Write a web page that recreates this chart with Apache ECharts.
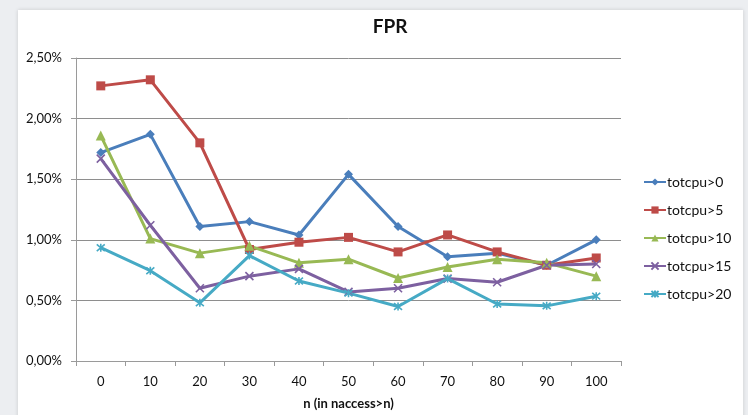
<!DOCTYPE html>
<html>
<head>
<meta charset="utf-8">
<script src="https://cdn.jsdelivr.net/npm/echarts@6/dist/echarts.min.js"></script>
<style>
  html, body { margin: 0; padding: 0; background: #eceef1; }
  #chart { width: 748px; height: 415px; }
</style>
</head>
<body>
<div id="chart"></div>
<script>
// n thresholds on the x axis
const categories = ['0', '10', '20', '30', '40', '50', '60', '70', '80', '90', '100'];

// False positive rate (%) per totcpu threshold
const totcpu0  = [1.72, 1.87, 1.11, 1.15, 1.04, 1.54, 1.11, 0.86, 0.89, 0.79, 1.00];
const totcpu5  = [2.27, 2.32, 1.80, 0.92, 0.98, 1.02, 0.90, 1.04, 0.90, 0.79, 0.85];
const totcpu10 = [1.86, 1.01, 0.89, 0.95, 0.81, 0.84, 0.685, 0.775, 0.84, 0.81, 0.70];
const totcpu15 = [1.67, 1.12, 0.60, 0.70, 0.76, 0.57, 0.60, 0.68, 0.65, 0.79, 0.80];
const totcpu20 = [0.935, 0.745, 0.48, 0.87, 0.66, 0.56, 0.45, 0.68, 0.47, 0.455, 0.535];

const seriesNames = ['totcpu>0', 'totcpu>5', 'totcpu>10', 'totcpu>15', 'totcpu>20'];
const yTicks = { min: 0, max: 2.5, step: 0.5 };

const colors = ['#4a7ebb', '#be4b48', '#98b954', '#7d60a0', '#46aac5'];
const symbols = [
  'diamond',
  'rect',
  'triangle',
  'path://M0,0 L10,10 M10,0 L0,10',
  'path://M0,0 L10,10 M10,0 L0,10 M5,-1 L5,11'
];
const symbolSizes = [9, 9, 10, 8, 8];
const dataSets = [totcpu0, totcpu5, totcpu10, totcpu15, totcpu20];

const font = 'Lato, "Open Sans", sans-serif';

const chart = echarts.init(document.getElementById('chart'), null, { renderer: 'canvas' });

chart.setOption({
  animation: false,
  backgroundColor: '#eceef1',
  graphic: [
    {
      type: 'rect',
      shape: { x: 18, y: 10, width: 725, height: 410 },
      style: { fill: '#ffffff', shadowBlur: 4, shadowColor: 'rgba(0,0,0,0.15)' },
      z: -10
    }
  ],
  title: {
    text: 'FPR',
    left: 385,
    textAlign: 'center',
    top: 12,
    textStyle: { fontFamily: font, fontSize: 19, fontWeight: 'bold', color: '#111' }
  },
  grid: { left: 76, right: 127, top: 58, bottom: 51 },
  legend: {
    orient: 'vertical',
    left: 643,
    top: 175,
    padding: 0,
    itemWidth: 22,
    itemHeight: 9,
    itemGap: 14,
    data: seriesNames,
    textStyle: { fontFamily: font, fontSize: 14, color: '#111', padding: [0, 0, 0, -4] }
  },
  xAxis: {
    type: 'category',
    data: categories,
    boundaryGap: true,
    name: 'n (in naccess>n)',
    nameLocation: 'middle',
    nameGap: 36,
    nameTextStyle: { fontFamily: font, fontSize: 13, fontWeight: 'bold', color: '#111' },
    axisLine: { lineStyle: { color: '#9a9a9a', width: 1 } },
    axisTick: { show: true, length: 5, lineStyle: { color: '#9a9a9a' } },
    axisLabel: { fontFamily: font, fontSize: 13, color: '#111', margin: 14 },
    splitLine: { show: false }
  },
  yAxis: {
    type: 'value',
    min: yTicks.min,
    max: yTicks.max,
    interval: yTicks.step,
    axisLine: { show: true, lineStyle: { color: '#9a9a9a', width: 1 } },
    axisTick: { show: true, length: 5, lineStyle: { color: '#9a9a9a' } },
    axisLabel: {
      fontFamily: font,
      fontSize: 13,
      color: '#111',
      margin: 14,
      formatter: v => v.toFixed(2).replace('.', ',') + '%'
    },
    splitLine: { lineStyle: { color: '#8e8e8e', width: 1 } }
  },
  series: dataSets.map((d, i) => ({
    name: seriesNames[i],
    type: 'line',
    data: d,
    color: colors[i],
    symbol: symbols[i],
    symbolSize: symbolSizes[i],
    showAllSymbol: true,
    lineStyle: { width: 3, color: colors[i] },
    itemStyle: { color: colors[i], borderColor: colors[i], borderWidth: i >= 3 ? 1.6 : 0 }
  }))
});
</script>
</body>
</html>
